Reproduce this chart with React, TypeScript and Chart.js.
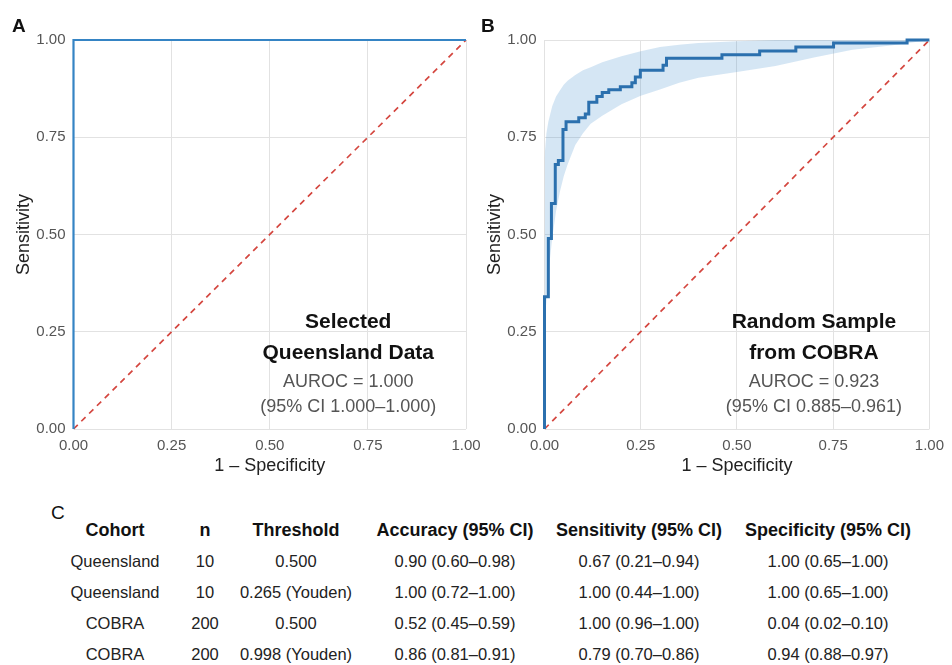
import React, { useEffect, useRef } from "react";
import { Chart, registerables } from "chart.js";

Chart.register(...registerables);

// ---------- data ----------
const tickValues = [0, 0.25, 0.5, 0.75, 1];
const diagonal = [0, 1];

const rocAFpr = [0, 0, 1];
const rocATpr = [0, 1, 1];

const rocBFpr = [
  0, 0, 0.01, 0.01, 0.018, 0.018, 0.028, 0.028, 0.036, 0.036, 0.048, 0.048,
  0.056, 0.056, 0.089, 0.089, 0.106, 0.106, 0.115, 0.115, 0.136, 0.136,
  0.15, 0.15, 0.167, 0.167, 0.197, 0.197, 0.227, 0.227, 0.236, 0.236,
  0.249, 0.249, 0.308, 0.308, 0.317, 0.317, 0.461, 0.461, 0.559, 0.559,
  0.653, 0.653, 0.751, 0.751, 0.942, 0.942, 1,
];
const rocBTpr = [
  0, 0.34, 0.34, 0.49, 0.49, 0.58, 0.58, 0.68, 0.68, 0.69, 0.69, 0.77,
  0.77, 0.79, 0.79, 0.8, 0.8, 0.81, 0.81, 0.84, 0.84, 0.855,
  0.855, 0.865, 0.865, 0.872, 0.872, 0.88, 0.88, 0.89, 0.89, 0.905,
  0.905, 0.922, 0.922, 0.935, 0.935, 0.953, 0.953, 0.962, 0.962, 0.972,
  0.972, 0.982, 0.982, 0.992, 0.992, 1, 1,
];

const bandBFpr = [
  0, 0.005, 0.01, 0.02, 0.03, 0.04, 0.05, 0.06, 0.08, 0.1, 0.12, 0.15, 0.2,
  0.25, 0.3, 0.35, 0.4, 0.5, 0.6, 0.7, 0.8, 0.9, 1,
];
const bandBLower = [
  0.27, 0.33, 0.4, 0.49, 0.56, 0.61, 0.65, 0.68, 0.73, 0.76, 0.785, 0.805,
  0.835, 0.857, 0.873, 0.89, 0.903, 0.918, 0.933, 0.955, 0.975, 0.986, 1,
];
const bandBUpper = [
  0.7, 0.76, 0.79, 0.83, 0.855, 0.87, 0.885, 0.895, 0.91, 0.922, 0.93, 0.943,
  0.958, 0.971, 0.982, 0.988, 0.992, 0.997, 1, 1, 1, 1, 1,
];

const panelATitle = ["Selected", "Queensland Data"];
const panelAStats = ["AUROC = 1.000", "(95% CI 1.000\u20131.000)"];
const panelBTitle = ["Random Sample", "from COBRA"];
const panelBStats = ["AUROC = 0.923", "(95% CI 0.885\u20130.961)"];

const tableHeader = [
  "Cohort",
  "n",
  "Threshold",
  "Accuracy (95% CI)",
  "Sensitivity (95% CI)",
  "Specificity (95% CI)",
];
const cohorts = ["Queensland", "Queensland", "COBRA", "COBRA"];
const sampleSizes = ["10", "10", "200", "200"];
const thresholds = ["0.500", "0.265 (Youden)", "0.500", "0.998 (Youden)"];
const accuracy = [
  "0.90 (0.60\u20130.98)",
  "1.00 (0.72\u20131.00)",
  "0.52 (0.45\u20130.59)",
  "0.86 (0.81\u20130.91)",
];
const sensitivity = [
  "0.67 (0.21\u20130.94)",
  "1.00 (0.44\u20131.00)",
  "1.00 (0.96\u20131.00)",
  "0.79 (0.70\u20130.86)",
];
const specificity = [
  "1.00 (0.65\u20131.00)",
  "1.00 (0.65\u20131.00)",
  "0.04 (0.02\u20130.10)",
  "0.94 (0.88\u20130.97)",
];

// ---------- styling ----------
const FONT = "'Liberation Sans', Arial, Helvetica, sans-serif";
Chart.defaults.font.family = FONT;

const textPlugin = {
  id: "rocText",
  afterDatasetsDraw(chart: any, _args: any, opts: any) {
    if (!opts || !opts.lines) return;
    const { ctx, scales } = chart;
    const cx = scales.x.getPixelForValue(opts.x);
    ctx.save();
    ctx.textAlign = "center";
    ctx.textBaseline = "middle";
    opts.lines.forEach((l: any) => {
      ctx.font = l.font;
      ctx.fillStyle = l.color;
      ctx.fillText(l.text, cx, scales.y.getPixelForValue(l.y));
    });
    ctx.restore();
  },
};

type PanelProps = {
  fpr: number[];
  tpr: number[];
  band?: { fpr: number[]; lower: number[]; upper: number[] };
  titleLines: string[];
  statLines: string[];
  lineColor: string;
  lineWidth: number;
  width: number;
  height: number;
  left: number;
  yAxisWidth: number;
  padRight: number;
  yTitlePad: number;
};

function RocPanel(p: PanelProps) {
  const ref = useRef<HTMLCanvasElement>(null);
  useEffect(() => {
    if (!ref.current) return;
    const datasets: any[] = [
      {
        data: p.fpr.map((x, i) => ({ x, y: p.tpr[i] })),
        borderColor: p.lineColor,
        borderWidth: p.lineWidth,
        pointRadius: 0,
        fill: false,
        clip: 6,
        order: 0,
        borderJoinStyle: "miter",
      },
      {
        data: diagonal.map((v) => ({ x: v, y: v })),
        borderColor: "#d4463f",
        borderWidth: 1.7,
        borderDash: [6, 5],
        pointRadius: 0,
        fill: false,
        clip: 6,
        order: 1,
      },
    ];
    if (p.band) {
      const b = p.band;
      datasets.push({
        data: b.fpr.map((x, i) => ({ x, y: b.lower[i] })),
        borderColor: "rgba(0,0,0,0)",
        borderWidth: 0,
        pointRadius: 0,
        fill: false,
        order: 2,
      });
      datasets.push({
        data: b.fpr.map((x, i) => ({ x, y: b.upper[i] })),
        borderColor: "rgba(0,0,0,0)",
        borderWidth: 0,
        pointRadius: 0,
        fill: "-1",
        backgroundColor: "rgba(66,140,205,0.22)",
        order: 3,
      });
    }
    const setTicks = (s: any) => {
      s.ticks = tickValues.map((v) => ({ value: v }));
    };
    const ann = [
      { text: p.titleLines[0], y: 0.275, font: `bold 21px ${FONT}`, color: "#111" },
      { text: p.titleLines[1], y: 0.195, font: `bold 21px ${FONT}`, color: "#111" },
      { text: p.statLines[0], y: 0.122, font: `18px ${FONT}`, color: "#555" },
      { text: p.statLines[1], y: 0.056, font: `18px ${FONT}`, color: "#555" },
    ];
    const chart = new Chart(ref.current, {
      type: "line",
      data: { datasets },
      options: {
        animation: false,
        responsive: false,
        events: [],
        layout: { padding: { left: 0, right: p.padRight, top: 40, bottom: 0 } },
        plugins: {
          legend: { display: false },
          tooltip: { enabled: false },
          rocText: { x: 0.7, lines: ann },
        } as any,
        scales: {
          x: {
            type: "linear",
            min: 0,
            max: 1,
            afterBuildTicks: setTicks,
            afterFit: (s: any) => {
              s.height = 51;
            },
            grid: { color: "#e2e2e2", lineWidth: 1, drawTicks: false },
            border: { display: false },
            ticks: {
              padding: 8,
              color: "#555",
              font: { size: 15 },
              maxRotation: 0,
              autoSkip: false,
              callback: (v: any) => Number(v).toFixed(2),
            },
            title: {
              display: true,
              text: "1 \u2013 Specificity",
              color: "#222",
              font: { size: 18 },
              padding: { top: 0, bottom: 3 },
            },
          },
          y: {
            type: "linear",
            min: 0,
            max: 1,
            afterBuildTicks: setTicks,
            afterFit: (s: any) => {
              s.width = p.yAxisWidth;
            },
            grid: { color: "#e2e2e2", lineWidth: 1, drawTicks: false },
            border: { display: false },
            ticks: {
              padding: 8,
              color: "#555",
              font: { size: 15 },
              autoSkip: false,
              callback: (v: any) => Number(v).toFixed(2),
            },
            title: {
              display: true,
              text: "Sensitivity",
              color: "#222",
              font: { size: 18 },
              padding: { top: p.yTitlePad, bottom: 0 },
            },
          },
        },
      },
      plugins: [textPlugin],
    });
    return () => chart.destroy();
  }, []);
  return (
    <canvas
      ref={ref}
      width={p.width}
      height={p.height}
      style={{ position: "absolute", left: p.left, top: 0, width: p.width, height: p.height }}
    />
  );
}

const colCenters = [115, 205, 296, 455, 639, 828];
const rowCenters = [561, 592.5, 623.5, 654];

function Cell({ text, cx, cy, size, bold }: { text: string; cx: number; cy: number; size: number; bold?: boolean }) {
  return (
    <div
      style={{
        position: "absolute",
        left: cx,
        top: cy - size / 2,
        transform: "translateX(-50%)",
        whiteSpace: "nowrap",
        fontFamily: FONT,
        fontSize: size,
        lineHeight: `${size}px`,
        fontWeight: bold ? 700 : 400,
        color: bold ? "#111" : "#222",
      }}
    >
      {text}
    </div>
  );
}

export default function App() {
  useEffect(() => {
    document.body.style.margin = "0";
    document.body.style.background = "#fff";
  }, []);
  const columns = [cohorts, sampleSizes, thresholds, accuracy, sensitivity, specificity];
  return (
    <div style={{ position: "relative", width: 952, height: 665, background: "#fff", overflow: "hidden" }}>
      <RocPanel
        fpr={rocAFpr}
        tpr={rocATpr}
        titleLines={panelATitle}
        statLines={panelAStats}
        lineColor="#3584c4"
        lineWidth={2.2}
        width={490}
        height={480}
        left={0}
        yAxisWidth={73.5}
        padRight={24}
        yTitlePad={13}
      />
      <RocPanel
        fpr={rocBFpr}
        tpr={rocBTpr}
        band={{ fpr: bandBFpr, lower: bandBLower, upper: bandBUpper }}
        titleLines={panelBTitle}
        statLines={panelBStats}
        lineColor="#2b70ae"
        lineWidth={3}
        width={476}
        height={480}
        left={476}
        yAxisWidth={68.5}
        padRight={16}
        yTitlePad={8}
      />
      <div style={{ position: "absolute", left: 12, top: 15.6, font: `bold 19px/19px ${FONT}`, color: "#111" }}>A</div>
      <div style={{ position: "absolute", left: 481, top: 15.6, font: `bold 19px/19px ${FONT}`, color: "#111" }}>B</div>
      <div style={{ position: "absolute", left: 51, top: 502.5, font: `19px/19px ${FONT}`, color: "#111" }}>C</div>
      {tableHeader.map((h, j) => (
        <Cell key={"h" + j} text={h} cx={colCenters[j]} cy={530} size={18} bold />
      ))}
      {columns.map((col, j) =>
        col.map((t, i) => <Cell key={j + "-" + i} text={t} cx={colCenters[j]} cy={rowCenters[i]} size={16.5} />)
      )}
    </div>
  );
}
